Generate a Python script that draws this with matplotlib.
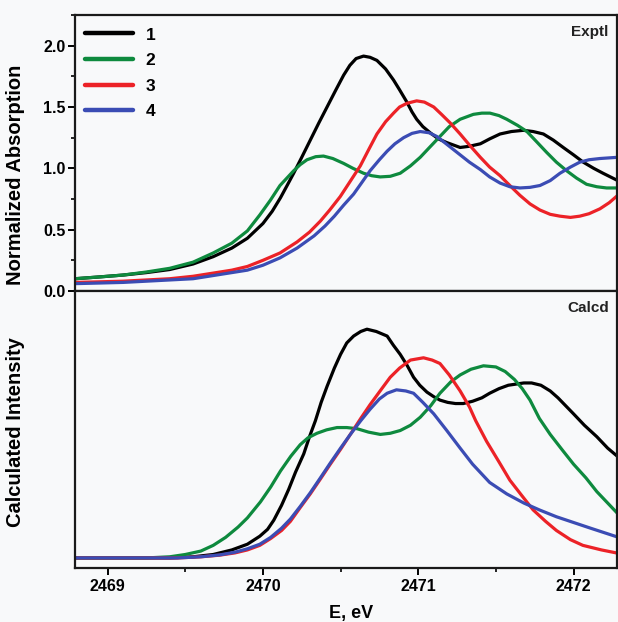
import matplotlib
matplotlib.use("Agg")
import matplotlib.pyplot as plt
from matplotlib.ticker import MultipleLocator, NullLocator

# ---------------- data: experimental (top panel) ----------------
exp1_x = [2468.79, 2468.95, 2469.10, 2469.25, 2469.40, 2469.55, 2469.68, 2469.80, 2469.90, 2470.00,
          2470.06, 2470.113, 2470.16, 2470.198, 2470.25, 2470.305, 2470.36, 2470.413, 2470.47, 2470.52,
          2470.56, 2470.60, 2470.648, 2470.69, 2470.734, 2470.79, 2470.841, 2470.88, 2470.927, 2470.96,
          2470.99, 2471.03, 2471.077, 2471.13, 2471.184, 2471.27, 2471.33, 2471.40, 2471.46, 2471.527,
          2471.60, 2471.677, 2471.74, 2471.806, 2471.87, 2471.934, 2472.00, 2472.063, 2472.13, 2472.19,
          2472.285]
exp1_y = [0.10, 0.115, 0.13, 0.15, 0.175, 0.22, 0.28, 0.35, 0.43, 0.55,
          0.65, 0.76, 0.87, 0.96, 1.09, 1.23, 1.37, 1.50, 1.64, 1.76,
          1.84, 1.895, 1.915, 1.905, 1.88, 1.81, 1.72, 1.64, 1.54, 1.46,
          1.40, 1.34, 1.29, 1.24, 1.21, 1.17, 1.18, 1.20, 1.24, 1.28,
          1.30, 1.31, 1.30, 1.28, 1.23, 1.17, 1.11, 1.05, 1.00, 0.96,
          0.90]

exp2_x = [2468.79, 2468.95, 2469.10, 2469.25, 2469.40, 2469.55, 2469.68, 2469.80, 2469.90, 2469.98,
          2470.048, 2470.11, 2470.198, 2470.24, 2470.284, 2470.34, 2470.39, 2470.45, 2470.52, 2470.58,
          2470.648, 2470.70, 2470.755, 2470.82, 2470.884, 2470.95, 2471.013, 2471.08, 2471.14, 2471.20,
          2471.27, 2471.355, 2471.41, 2471.462, 2471.52, 2471.57, 2471.64, 2471.70, 2471.76, 2471.827,
          2471.89, 2471.956, 2472.02, 2472.084, 2472.15, 2472.213, 2472.285]
exp2_y = [0.10, 0.115, 0.13, 0.155, 0.185, 0.235, 0.31, 0.39, 0.49, 0.62,
          0.74, 0.86, 0.98, 1.03, 1.07, 1.095, 1.10, 1.08, 1.04, 1.00,
          0.96, 0.94, 0.93, 0.935, 0.96, 1.02, 1.09, 1.18, 1.26, 1.34,
          1.40, 1.44, 1.45, 1.45, 1.43, 1.40, 1.35, 1.30, 1.22, 1.13,
          1.05, 0.98, 0.92, 0.87, 0.85, 0.84, 0.84]

exp3_x = [2468.79, 2468.95, 2469.10, 2469.25, 2469.40, 2469.55, 2469.70, 2469.80, 2469.90, 2470.00,
          2470.11, 2470.22, 2470.30, 2470.37, 2470.43, 2470.498, 2470.56, 2470.627, 2470.68, 2470.734,
          2470.79, 2470.841, 2470.88, 2470.927, 2470.99, 2471.04, 2471.10, 2471.15, 2471.206, 2471.27,
          2471.33, 2471.40, 2471.46, 2471.527, 2471.59, 2471.655, 2471.72, 2471.784, 2471.85, 2471.913,
          2471.98, 2472.04, 2472.10, 2472.17, 2472.23, 2472.285]
exp3_y = [0.07, 0.075, 0.08, 0.09, 0.10, 0.12, 0.15, 0.17, 0.20, 0.25,
          0.31, 0.40, 0.48, 0.57, 0.66, 0.77, 0.89, 1.02, 1.15, 1.28,
          1.38, 1.45, 1.50, 1.53, 1.55, 1.54, 1.50, 1.44, 1.37, 1.28,
          1.19, 1.09, 1.01, 0.94, 0.86, 0.78, 0.71, 0.66, 0.625, 0.61,
          0.60, 0.61, 0.63, 0.67, 0.72, 0.78]

exp4_x = [2468.79, 2468.95, 2469.10, 2469.25, 2469.40, 2469.55, 2469.70, 2469.80, 2469.90, 2470.00,
          2470.11, 2470.22, 2470.33, 2470.40, 2470.46, 2470.52, 2470.584, 2470.64, 2470.69, 2470.75,
          2470.80, 2470.85, 2470.906, 2470.96, 2471.013, 2471.07, 2471.12, 2471.19, 2471.27, 2471.33,
          2471.40, 2471.46, 2471.527, 2471.59, 2471.655, 2471.72, 2471.784, 2471.85, 2471.913, 2471.98,
          2472.04, 2472.10, 2472.17, 2472.285]
exp4_y = [0.06, 0.065, 0.07, 0.08, 0.09, 0.10, 0.13, 0.15, 0.17, 0.21,
          0.27, 0.35, 0.45, 0.53, 0.61, 0.70, 0.79, 0.89, 0.98, 1.07,
          1.14, 1.20, 1.25, 1.285, 1.30, 1.29, 1.26, 1.19, 1.11, 1.05,
          0.99, 0.93, 0.88, 0.85, 0.84, 0.845, 0.86, 0.90, 0.96, 1.01,
          1.05, 1.07, 1.08, 1.09]

# ---------------- data: calculated (bottom panel) ----------------
calc1_x = [2468.79, 2469.40, 2469.55, 2469.68, 2469.80, 2469.90, 2469.98, 2470.03, 2470.07, 2470.12,
           2470.166, 2470.21, 2470.263, 2470.30, 2470.338, 2470.375, 2470.413, 2470.46, 2470.50, 2470.54,
           2470.584, 2470.63, 2470.67, 2470.73, 2470.80, 2470.84, 2470.884, 2470.93, 2470.97, 2471.01,
           2471.056, 2471.10, 2471.14, 2471.19, 2471.24, 2471.29, 2471.35, 2471.41, 2471.46, 2471.52,
           2471.58, 2471.63, 2471.68, 2471.73, 2471.79, 2471.85, 2471.90, 2471.95, 2472.00, 2472.07,
           2472.15, 2472.22, 2472.29]
calc1_y = [0.0, 0.0, 0.005, 0.015, 0.035, 0.06, 0.095, 0.125, 0.165, 0.23,
           0.30, 0.375, 0.455, 0.53, 0.60, 0.68, 0.75, 0.83, 0.89, 0.94,
           0.97, 0.99, 1.0, 0.99, 0.97, 0.93, 0.89, 0.84, 0.79, 0.755,
           0.725, 0.705, 0.69, 0.68, 0.675, 0.675, 0.685, 0.70, 0.72, 0.74,
           0.755, 0.76, 0.765, 0.765, 0.755, 0.73, 0.70, 0.665, 0.63, 0.58,
           0.53, 0.48, 0.44]

calc2_x = [2468.79, 2469.25, 2469.40, 2469.50, 2469.60, 2469.68, 2469.76, 2469.84, 2469.90, 2469.984,
           2470.05, 2470.113, 2470.18, 2470.24, 2470.29, 2470.348, 2470.41, 2470.477, 2470.54, 2470.606,
           2470.68, 2470.756, 2470.82, 2470.884, 2470.95, 2471.013, 2471.08, 2471.14, 2471.21, 2471.27,
           2471.34, 2471.42, 2471.50, 2471.56, 2471.62, 2471.67, 2471.72, 2471.78, 2471.85, 2471.93,
           2472.00, 2472.08, 2472.15, 2472.22, 2472.29]
calc2_y = [0.0, 0.0, 0.005, 0.015, 0.03, 0.055, 0.09, 0.135, 0.175, 0.245,
           0.31, 0.38, 0.445, 0.495, 0.525, 0.545, 0.56, 0.57, 0.57, 0.565,
           0.55, 0.54, 0.545, 0.557, 0.58, 0.615, 0.665, 0.72, 0.77, 0.80,
           0.825, 0.84, 0.835, 0.815, 0.78, 0.74, 0.69, 0.61, 0.54, 0.47,
           0.41, 0.35, 0.29, 0.24, 0.19]

calc3_x = [2468.79, 2469.45, 2469.60, 2469.72, 2469.82, 2469.90, 2469.98, 2470.05, 2470.12, 2470.177,
           2470.24, 2470.305, 2470.37, 2470.434, 2470.50, 2470.563, 2470.63, 2470.69, 2470.76, 2470.82,
           2470.88, 2470.95, 2471.034, 2471.09, 2471.14, 2471.20, 2471.27, 2471.33, 2471.37, 2471.44,
           2471.52, 2471.59, 2471.67, 2471.74, 2471.82, 2471.89, 2471.98, 2472.06, 2472.18, 2472.29]
calc3_y = [0.0, 0.0, 0.005, 0.012, 0.022, 0.035, 0.055, 0.085, 0.12, 0.16,
           0.22, 0.28, 0.345, 0.41, 0.475, 0.54, 0.61, 0.67, 0.735, 0.79,
           0.83, 0.865, 0.875, 0.865, 0.85, 0.80, 0.73, 0.66, 0.60, 0.51,
           0.42, 0.34, 0.27, 0.21, 0.16, 0.12, 0.08, 0.055, 0.035, 0.02]

calc4_x = [2468.79, 2469.45, 2469.60, 2469.72, 2469.82, 2469.90, 2469.98, 2470.05, 2470.12, 2470.177,
           2470.24, 2470.305, 2470.37, 2470.434, 2470.50, 2470.563, 2470.63, 2470.69, 2470.75, 2470.80,
           2470.86, 2470.92, 2470.97, 2471.03, 2471.10, 2471.184, 2471.27, 2471.35, 2471.46, 2471.57,
           2471.68, 2471.78, 2471.89, 2472.00, 2472.11, 2472.20, 2472.29]
calc4_y = [0.0, 0.0, 0.005, 0.013, 0.025, 0.04, 0.06, 0.09, 0.13, 0.17,
           0.225, 0.285, 0.35, 0.415, 0.48, 0.54, 0.60, 0.65, 0.695, 0.72,
           0.735, 0.73, 0.72, 0.68, 0.63, 0.557, 0.48, 0.41, 0.33, 0.28,
           0.24, 0.21, 0.18, 0.155, 0.13, 0.11, 0.09]

labels = ["1", "2", "3", "4"]
colors = ["#000000", "#0e8a3e", "#ec2227", "#3b4cb4"]
x_ticks = [2469, 2470, 2471, 2472]
y_ticks_top = [0.0, 0.5, 1.0, 1.5, 2.0]

exp_x = [exp1_x, exp2_x, exp3_x, exp4_x]
exp_y = [exp1_y, exp2_y, exp3_y, exp4_y]
calc_x = [calc1_x, calc2_x, calc3_x, calc4_x]
calc_y = [calc1_y, calc2_y, calc3_y, calc4_y]

plt.rcParams['font.family'] = ['Liberation Sans', 'DejaVu Sans']
plt.rcParams['font.weight'] = 'bold'

bg = "#f8f9fa"
fig = plt.figure(figsize=(6.18, 6.22), dpi=100, facecolor=bg)
L, R = 75 / 618, 617 / 618
ax1 = fig.add_axes([L, 1 - 291 / 622, R - L, (291 - 15) / 622])
ax2 = fig.add_axes([L, 1 - 568 / 622, R - L, (568 - 291) / 622])

lw = 2.3
for i in range(4):
    ax1.plot(exp_x[i], exp_y[i], color=colors[i], lw=lw, label=labels[i],
             solid_capstyle='round', solid_joinstyle='round')
    ax2.plot(calc_x[i], calc_y[i], color=colors[i], lw=lw,
             solid_capstyle='round', solid_joinstyle='round')

for ax in (ax1, ax2):
    ax.set_facecolor(bg)
    ax.set_xlim(2468.79, 2472.28)
    for s in ax.spines.values():
        s.set_linewidth(1.6)
        s.set_color("#1a1a1a")

ax1.set_ylim(0, 2.25)
ax1.set_yticks(y_ticks_top)
ax1.set_yticklabels([f"{v:.1f}" for v in y_ticks_top])
ax1.yaxis.set_minor_locator(MultipleLocator(0.25))
ax1.tick_params(axis='y', which='major', direction='out', length=5, width=1.4, labelsize=11.5, pad=2)
ax1.tick_params(axis='y', which='minor', direction='out', length=3, width=1.2)
ax1.tick_params(axis='x', which='both', bottom=False, labelbottom=False)
ax1.set_ylabel("Normalized Absorption", fontsize=14.5, fontweight='bold')
ax1.yaxis.set_label_coords(-0.092, 0.42)
ax1.text(0.985, 0.965, "Exptl", transform=ax1.transAxes, ha='right', va='top',
         fontsize=11, fontweight='bold', color="#222222")

leg = ax1.legend(loc='upper left', bbox_to_anchor=(0.018, 0.955), frameon=False, fontsize=12.5,
                 handlelength=2.8, handletextpad=0.7, labelspacing=0.6, borderpad=0, borderaxespad=0)
for h in leg.get_lines():
    h.set_linewidth(3.2)

ax2.set_ylim(-0.044, 1.167)
ax2.yaxis.set_major_locator(NullLocator())
ax2.set_xticks(x_ticks)
ax2.set_xticklabels([str(v) for v in x_ticks])
ax2.xaxis.set_minor_locator(MultipleLocator(0.5))
ax2.tick_params(axis='x', which='major', direction='out', length=5, width=1.4, labelsize=11.5, pad=3)
ax2.tick_params(axis='x', which='minor', direction='out', length=3, width=1.2)
ax2.set_ylabel("Calculated Intensity", fontsize=14.5, fontweight='bold')
ax2.yaxis.set_label_coords(-0.092, 0.49)
ax2.set_xlabel("E, eV", fontsize=13, fontweight='bold')
ax2.xaxis.set_label_coords(0.51, -0.132)
ax2.text(0.985, 0.965, "Calcd", transform=ax2.transAxes, ha='right', va='top',
         fontsize=11, fontweight='bold', color="#222222")

fig.savefig("out.png", dpi=100, facecolor=bg)
